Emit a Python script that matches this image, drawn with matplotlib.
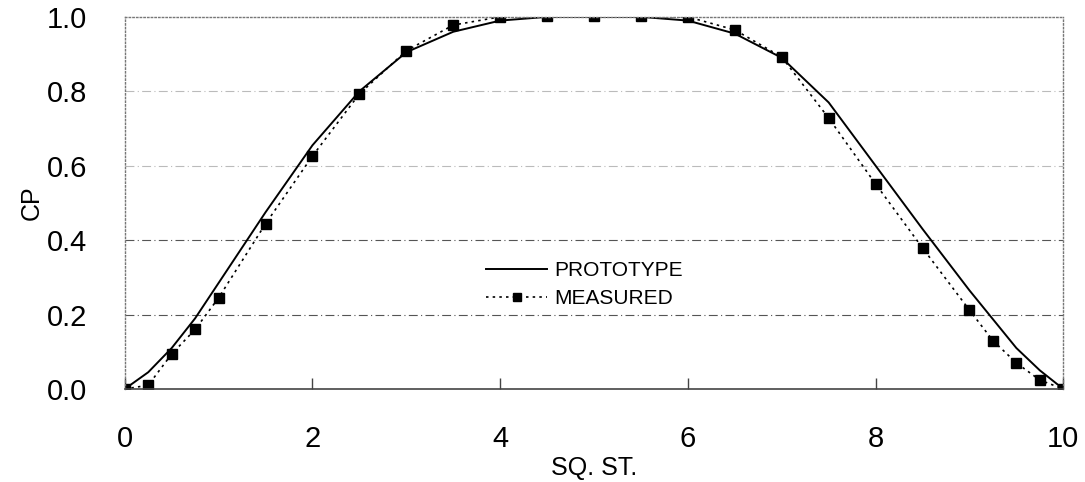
import matplotlib.pyplot as plt

plt.rcParams['font.family'] = ['Liberation Sans', 'DejaVu Sans']

# prototype curve (solid)
proto_x = [0, 0.25, 0.5, 0.75, 1.0, 1.5, 2.0, 2.5, 3.0, 3.5, 4.0, 4.5, 5.0, 5.5,
           6.0, 6.5, 7.0, 7.5, 8.0, 8.5, 9.0, 9.5, 9.75, 10]
proto_y = [0.0, 0.045, 0.11, 0.19, 0.285, 0.475, 0.655, 0.80, 0.905, 0.96, 0.99, 1.0, 1.0, 1.0,
           0.99, 0.955, 0.89, 0.77, 0.60, 0.43, 0.265, 0.11, 0.05, 0.0]

# measured points
meas_x = [0, 0.25, 0.5, 0.75, 1.0, 1.5, 2.0, 2.5, 3.0, 3.5, 4.0, 4.5, 5.0, 5.5,
          6.0, 6.5, 7.0, 7.5, 8.0, 8.5, 9.0, 9.25, 9.5, 9.75, 10]
meas_y = [0.0, 0.01, 0.094, 0.16, 0.245, 0.444, 0.626, 0.793, 0.909, 0.978, 1.0, 1.002, 1.002, 1.002,
          1.0, 0.965, 0.892, 0.728, 0.551, 0.379, 0.212, 0.13, 0.07, 0.024, 0.0]

fig = plt.figure(figsize=(10.85, 4.82), dpi=100)
ax = fig.add_axes([0.115, 0.193, 0.865, 0.772])

for yv in [0.2, 0.4, 0.6, 0.8]:
    ax.axhline(yv, color='#555555' if yv in (0.2, 0.4) else '#bbbbbb',
               linestyle=(0, (8, 3, 1, 3)), linewidth=0.8, zorder=0)

ax.plot(proto_x, proto_y, color='black', linewidth=1.4, label='PROTOTYPE')
ax.plot(meas_x, meas_y, color='black', linestyle=(0, (1.5, 2.5)), linewidth=1.2,
        marker='s', markersize=6.5, label='MEASURED')

ax.set_xlim(0, 10)
ax.set_ylim(0, 1.0)
ax.set_xticks([0, 2, 4, 6, 8, 10])
ax.set_yticks([0.0, 0.2, 0.4, 0.6, 0.8, 1.0])
ax.set_yticklabels(['0.0', '0.2', '0.4', '0.6', '0.8', '1.0'])
ax.tick_params(axis='x', direction='in', length=8, width=1, color='#444444',
               labelsize=21, pad=26)
ax.tick_params(axis='y', length=0, labelsize=21, pad=27)

for side in ['top', 'right', 'left']:
    ax.spines[side].set_linestyle(':')
    ax.spines[side].set_color('#777777')
    ax.spines[side].set_linewidth(1.0)
ax.spines['bottom'].set_color('#444444')
ax.spines['bottom'].set_linewidth(1.2)

ax.set_xlabel('SQ. ST.', fontsize=18, labelpad=2)
ax.set_ylabel('CP', fontsize=18, labelpad=2)

leg = ax.legend(loc='center', bbox_to_anchor=(0.49, 0.28), frameon=False,
                fontsize=15, handlelength=2.9, handletextpad=0.35,
                labelspacing=0.45, markerscale=0.8)

fig.savefig('out.png', dpi=100)
